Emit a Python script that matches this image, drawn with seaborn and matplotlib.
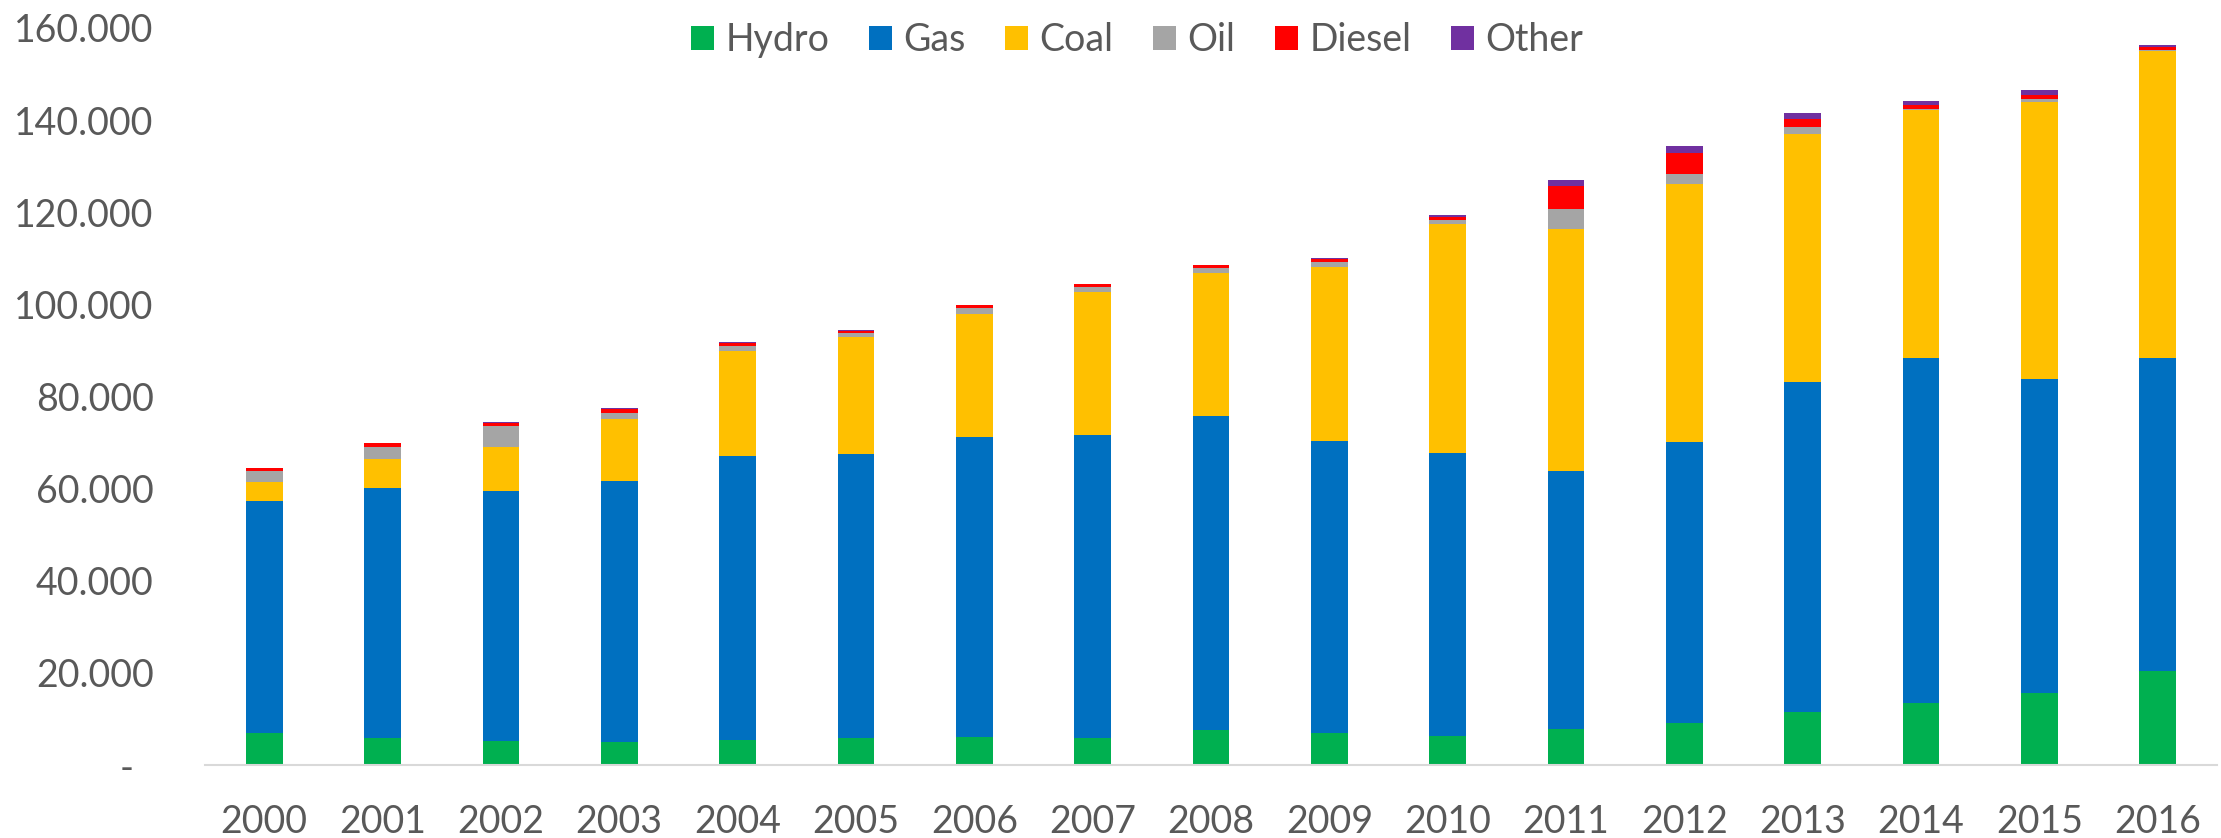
import numpy as np
import pandas as pd
import matplotlib
matplotlib.use("Agg")
import matplotlib.pyplot as plt
import matplotlib.ticker as ticker
from matplotlib.patches import Patch
import seaborn as sns

# данные (тыс.)
years = [str(y) for y in range(2000, 2017)]
hydro = [6.9, 5.9, 5.3, 5.0, 5.5, 5.9, 6.1, 5.9, 7.7, 6.9, 6.3, 7.9, 9.2, 11.6, 13.5, 15.7, 20.3]
gas = [50.4, 54.3, 54.2, 56.7, 61.5, 61.6, 65.1, 65.8, 68.1, 63.5, 61.5, 56.0, 61.0, 71.5, 74.8, 68.0, 68.0]
coal = [4.2, 6.3, 9.6, 13.5, 22.8, 25.4, 26.8, 30.9, 31.1, 37.8, 49.6, 52.5, 55.9, 53.9, 53.8, 60.2, 66.6]
oil = [2.4, 2.6, 4.4, 1.3, 1.2, 0.9, 1.2, 1.1, 1.0, 1.0, 1.0, 4.3, 2.3, 1.6, 0.4, 0.7, 0.4]
diesel = [0.5, 0.8, 0.8, 0.8, 0.7, 0.5, 0.6, 0.7, 0.6, 0.6, 0.6, 5.1, 4.5, 1.6, 0.8, 0.9, 0.5]
other = [0.1, 0.1, 0.1, 0.1, 0.1, 0.1, 0.1, 0.1, 0.1, 0.3, 0.3, 1.3, 1.5, 1.4, 0.9, 1.1, 0.6]

series = ["Hydro", "Gas", "Coal", "Oil", "Diesel", "Other"]
colors = ["#00B050", "#0070C0", "#FFC000", "#A5A5A5", "#FF0000", "#7030A0"]

df = pd.DataFrame({"Hydro": hydro, "Gas": gas, "Coal": coal, "Oil": oil,
                   "Diesel": diesel, "Other": other}, index=years) * 1000
cum = df.cumsum(axis=1)

sns.set_style("white")
plt.rcParams['font.family'] = ['Lato', 'DejaVu Sans']
txt_color = "#595959"

fig = plt.figure(figsize=(22.21, 8.38), dpi=100)
ax = fig.add_axes([205 / 2221, 73 / 838, 2012 / 2221, 737 / 838])

# рисуем накопленные суммы сверху вниз, чтобы получился stacked bar
for name, col in reversed(list(zip(series, colors))):
    sns.barplot(x=years, y=cum[name].values, color=col, width=0.31,
                linewidth=0, saturation=1, ax=ax)

ax.set_ylim(0, 160000)
ax.set_xlim(-0.5, 16.5)
ax.yaxis.set_major_locator(ticker.MultipleLocator(20000))
ax.yaxis.set_major_formatter(ticker.FuncFormatter(
    lambda v, p: "-  " if v == 0 else f"{v:,.0f}".replace(",", ".")))
ax.tick_params(axis='y', length=0, pad=37, labelsize=27, labelcolor=txt_color)
ax.tick_params(axis='x', length=0, pad=28, labelsize=27, labelcolor=txt_color)
ax.set_xlabel("")
ax.set_ylabel("")
for s in ["top", "right", "left"]:
    ax.spines[s].set_visible(False)
ax.spines["bottom"].set_color("#D9D9D9")
ax.spines["bottom"].set_linewidth(1.5)
ax.grid(False)

handles = [Patch(facecolor=c, edgecolor='none', label=n) for n, c in zip(series, colors)]
fig.legend(handles=handles, loc='center', bbox_to_anchor=(1137 / 2221, 1 - 40 / 838),
           ncol=6, frameon=False, fontsize=27, labelcolor=txt_color,
           handlelength=0.62, handleheight=0.62, handletextpad=0.3, columnspacing=1.05)

fig.savefig("out.png", dpi=100)
